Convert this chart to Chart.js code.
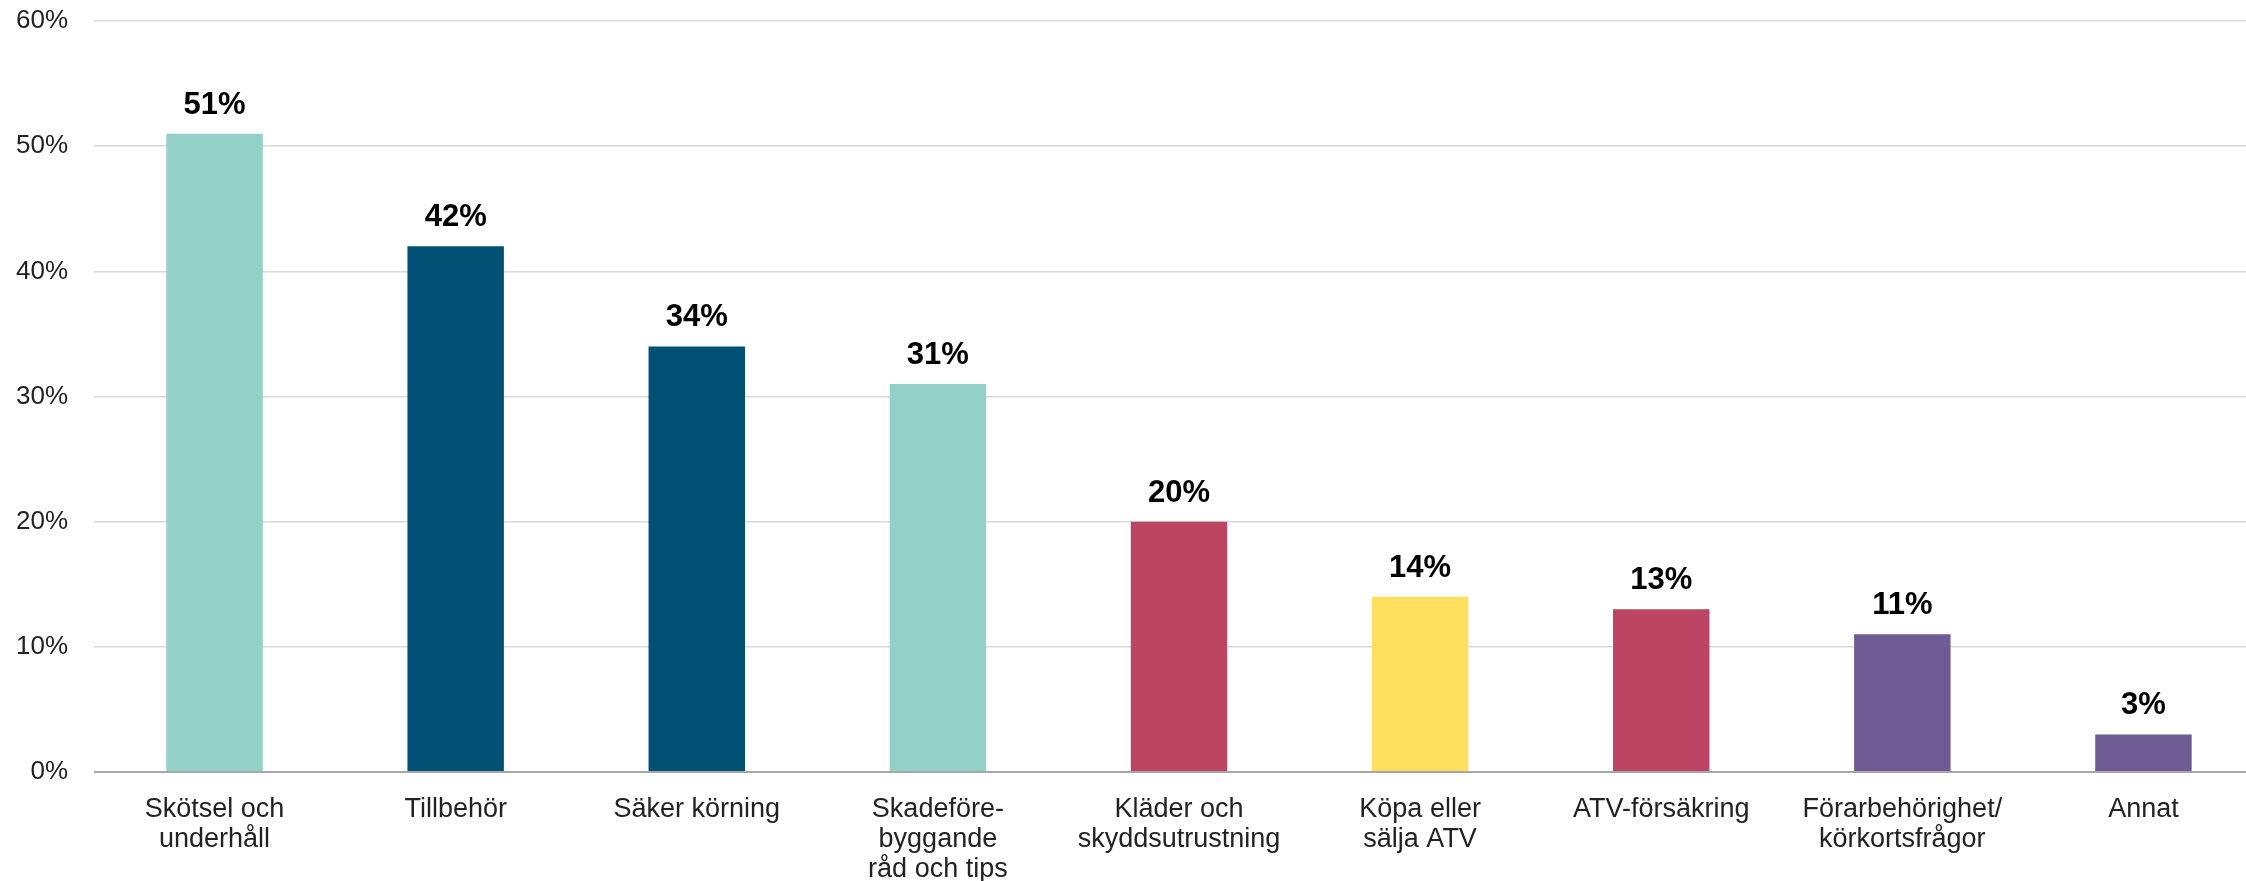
<!DOCTYPE html>
<html>
<head>
<meta charset="utf-8">
<script src="https://cdn.jsdelivr.net/npm/chart.js@4.4.1/dist/chart.umd.min.js"></script>
<style>
  html, body { margin: 0; padding: 0; background: #fff; overflow: hidden; }
  #wrap { width: 2264px; height: 881px; }
</style>
</head>
<body>
<div id="wrap"><canvas id="chart" width="2264" height="881"></canvas></div>
<script>
// === Data ===
const categories = [
  ["Skötsel och", "underhåll"],
  "Tillbehör",
  "Säker körning",
  ["Skadeföre-", "byggande", "råd och tips"],
  ["Kläder och", "skyddsutrustning"],
  ["Köpa eller", "sälja ATV"],
  "ATV-försäkring",
  ["Förarbehörighet/", "körkortsfrågor"],
  "Annat",
];
const values = [51, 42, 34, 31, 20, 14, 13, 11, 3];
const barColors = ["#93d0c8", "#005174", "#005174", "#93d0c8", "#bb4563", "#ffe05e", "#bb4563", "#6e5b94", "#6e5b94"];
const yTicks = [0, 10, 20, 30, 40, 50, 60];

// === Value labels above bars ===
const valueLabels = {
  id: "valueLabels",
  afterDatasetsDraw(chart) {
    const ctx = chart.ctx;
    const meta = chart.getDatasetMeta(0);
    ctx.save();
    ctx.font = "bold 31px 'Liberation Sans', Arial, sans-serif";
    ctx.fillStyle = "#000";
    ctx.textAlign = "center";
    ctx.textBaseline = "alphabetic";
    meta.data.forEach((bar, i) => {
      ctx.fillText(values[i] + "%", bar.x, bar.y - 20);
    });
    ctx.restore();
  },
};

new Chart(document.getElementById("chart").getContext("2d"), {
  type: "bar",
  data: {
    labels: categories,
    datasets: [
      {
        data: values,
        backgroundColor: barColors,
        borderWidth: 0,
        barPercentage: 0.4,
        categoryPercentage: 1,
      },
    ],
  },
  options: {
    responsive: false,
    animation: false,
    layout: { padding: { top: 21, left: 0, right: 0, bottom: 0 } },
    plugins: {
      legend: { display: false },
      tooltip: { enabled: false },
    },
    scales: {
      x: {
        grid: { display: false },
        border: { display: false },
        ticks: {
          color: "#222",
          font: { family: "'Liberation Sans', Arial, sans-serif", size: 27, lineHeight: 1.12 },
          padding: 14,
          maxRotation: 0,
          autoSkip: false,
        },
        afterFit: (s) => {
          s.height = 109;
          s.paddingLeft = 0;
          s.paddingRight = 0;
        },
      },
      y: {
        min: 0,
        max: 60,
        afterBuildTicks: (s) => { s.ticks = yTicks.map((v) => ({ value: v })); },
        grid: {
          color: (c) => (c.tick && c.tick.value === 0 ? "#a6a6a6" : "#d9d9d9"),
          lineWidth: (c) => (c.tick && c.tick.value === 0 ? 2 : 1.5),
          drawTicks: false,
        },
        border: { display: false },
        ticks: {
          color: "#222",
          font: { family: "'Liberation Sans', Arial, sans-serif", size: 26 },
          padding: 26,
          callback: (v) => v + "%",
        },
        afterFit: (s) => {
          s.width = 94;
          s.paddingTop = 0;
          s.paddingBottom = 0;
        },
      },
    },
  },
  plugins: [valueLabels],
});
</script>
</body>
</html>
